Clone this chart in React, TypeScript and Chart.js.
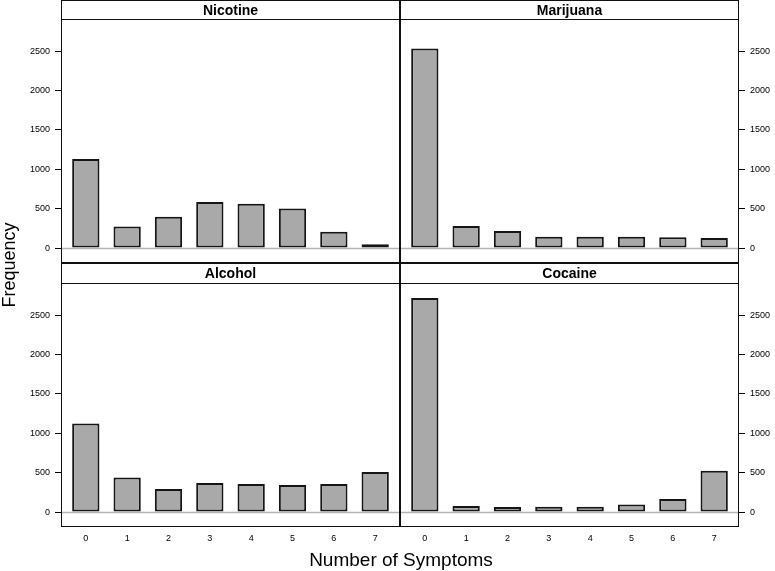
import React, { useEffect, useRef } from "react";
import { Chart, registerables } from "chart.js";

Chart.register(...registerables);

const categories = ["0", "1", "2", "3", "4", "5", "6", "7"];
const nicotine = [1131, 275, 398, 585, 564, 504, 208, 47];
const marijuana = [2534, 280, 216, 144, 144, 144, 136, 127];
const alcohol = [1125, 440, 292, 368, 355, 343, 355, 508];
const cocaine = [2720, 76, 63, 68, 68, 97, 165, 525];
const yTicks = [0, 500, 1000, 1500, 2000, 2500];
const panelTitles = ["Nicotine", "Marijuana", "Alcohol", "Cocaine"];
const yTitle = "Frequency";
const xTitle = "Number of Symptoms";

const W = 775;
const H = 571;
const FONT = "'Liberation Sans', Arial, Helvetica, sans-serif";

type PanelLayout = {
  left: boolean;
  bottom: boolean;
  padding: { left: number; right: number; top: number; bottom: number };
};

const layouts: PanelLayout[] = [
  { left: true, bottom: false, padding: { left: 0, right: 375, top: 19, bottom: 308 } },
  { left: false, bottom: false, padding: { left: 400, right: 0, top: 19, bottom: 308 } },
  { left: true, bottom: true, padding: { left: 0, right: 375, top: 283, bottom: 24 } },
  { left: false, bottom: true, padding: { left: 400, right: 0, top: 283, bottom: 24 } },
];

const seriesList = [nicotine, marijuana, alcohol, cocaine];

function makePanelPlugin(title: string, stripH: number, drawOuter: boolean) {
  return {
    id: "panel_" + title,
    beforeDatasetsDraw(chart: any) {
      const { ctx, chartArea } = chart;
      const y0 = Math.round(chart.scales.y.getPixelForValue(0)) + 0.5;
      ctx.save();
      ctx.strokeStyle = "#b4b4b4";
      ctx.lineWidth = 1.5;
      ctx.beginPath();
      ctx.moveTo(chartArea.left, y0);
      ctx.lineTo(chartArea.right, y0);
      ctx.stroke();
      ctx.restore();
    },
    afterDraw(chart: any) {
      const { ctx, chartArea } = chart;
      const l = Math.round(chartArea.left) + 0.5;
      const r = Math.round(chartArea.right) - 0.5;
      const t = Math.round(chartArea.top) + 0.5;
      const b = Math.round(chartArea.bottom) - 0.5;
      ctx.save();
      ctx.strokeStyle = "#111";
      ctx.lineWidth = 1;
      ctx.strokeRect(l, t, r - l, b - t);
      const st = Math.round(chartArea.top - stripH) + 0.5;
      ctx.fillStyle = "#ffffff";
      ctx.fillRect(l, st, r - l, t - st);
      ctx.strokeRect(l, st, r - l, t - st);
      ctx.fillStyle = "#000";
      ctx.font = "bold 14px " + FONT;
      ctx.textAlign = "center";
      ctx.textBaseline = "middle";
      ctx.fillText(title, (l + r) / 2, (st + t) / 2 + 1);
      if (drawOuter) {
        ctx.font = "18px " + FONT;
        ctx.save();
        ctx.translate(10, 265);
        ctx.rotate(-Math.PI / 2);
        ctx.fillText(yTitle, 0, 0);
        ctx.restore();
        ctx.font = "19px " + FONT;
        ctx.fillText(xTitle, 401, 561);
      }
      ctx.restore();
    },
  };
}

export default function App() {
  const refs = [
    useRef<HTMLCanvasElement>(null),
    useRef<HTMLCanvasElement>(null),
    useRef<HTMLCanvasElement>(null),
    useRef<HTMLCanvasElement>(null),
  ];

  useEffect(() => {
    const charts: Chart[] = [];
    layouts.forEach((lay, idx) => {
      const canvas = refs[idx].current;
      if (!canvas) return;
      const values = seriesList[idx];
      const stripH = lay.bottom ? 20 : 19;
      const chart = new Chart(canvas, {
        type: "bar",
        data: {
          datasets: [
            {
              data: values.map((v, i) => ({ x: i, y: v })) as any,
              backgroundColor: "#a9a9a9",
              borderColor: "#151515",
              borderWidth: 2,
              borderSkipped: false,
              barPercentage: 0.66,
              categoryPercentage: 1,
            },
          ],
        },
        options: {
          animation: false,
          responsive: false,
          maintainAspectRatio: false,
          devicePixelRatio: 1,
          layout: { padding: lay.padding },
          plugins: { legend: { display: false }, tooltip: { enabled: false } },
          scales: {
            x: {
              type: "linear",
              min: -0.6,
              max: 7.6,
              offset: false,
              display: lay.bottom,
              afterBuildTicks: (s: any) => {
                s.ticks = categories.map((_, i) => ({ value: i }));
              },
              afterFit: (s: any) => {
                s.height = lay.bottom ? 20 : 0;
              },
              ticks: {
                callback: (v: any) => categories[Number(v)] ?? "",
                font: { family: FONT, size: 9 },
                color: "#000",
                padding: 6,
                maxRotation: 0,
                autoSkip: false,
              },
              grid: { display: false, drawTicks: false, offset: false },
              border: { display: false },
            },
            y: {
              type: "linear",
              position: lay.left ? "left" : "right",
              min: -190,
              max: 2910,
              afterBuildTicks: (s: any) => {
                s.ticks = yTicks.map((v) => ({ value: v }));
              },
              afterFit: (s: any) => {
                s.width = lay.left ? 61 : 36;
              },
              ticks: {
                callback: (v: any) => String(v),
                font: { family: FONT, size: 9 },
                color: "#000",
                padding: 5,
              },
              grid: {
                drawOnChartArea: false,
                drawTicks: true,
                tickLength: 6,
                color: "#000",
                lineWidth: 1,
              },
              border: { display: false },
            },
          },
        } as any,
        plugins: [makePanelPlugin(panelTitles[idx], stripH, idx === 0)],
      });
      charts.push(chart);
    });
    return () => charts.forEach((c) => c.destroy());
  }, []);

  return (
    <div style={{ position: "absolute", left: 0, top: 0, width: W, height: H, background: "#fff" }}>
      {refs.map((r, i) => (
        <canvas
          key={i}
          ref={r}
          width={W}
          height={H}
          style={{ position: "absolute", left: 0, top: 0, width: W, height: H }}
        />
      ))}
    </div>
  );
}
